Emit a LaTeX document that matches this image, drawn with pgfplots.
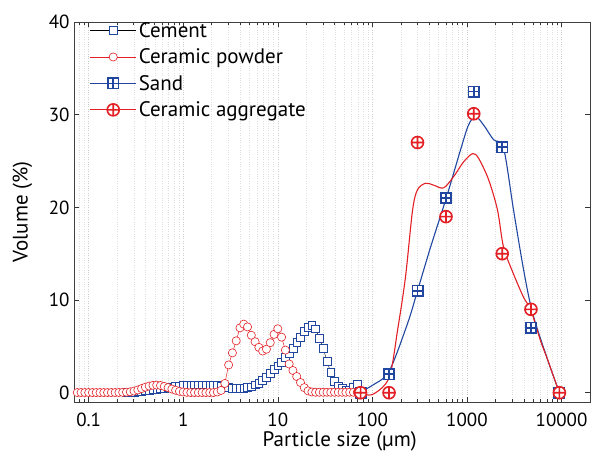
\documentclass[border=0pt]{standalone}
\usepackage{pgfplots}
\pgfplotsset{compat=1.18}
\usepackage{fontspec}
\setmainfont{PT Sans}
\usetikzlibrary{plotmarks}
\definecolor{myblue}{RGB}{32,70,160}
\definecolor{myred}{RGB}{226,32,38}
\pgfdeclareplotmark{boxplus}{%
  \pgfpathrectangle{\pgfqpoint{-\pgfplotmarksize}{-\pgfplotmarksize}}{\pgfqpoint{2\pgfplotmarksize}{2\pgfplotmarksize}}%
  \pgfusepathqfillstroke
  \pgfpathmoveto{\pgfqpoint{-\pgfplotmarksize}{0pt}}\pgfpathlineto{\pgfqpoint{\pgfplotmarksize}{0pt}}%
  \pgfpathmoveto{\pgfqpoint{0pt}{-\pgfplotmarksize}}\pgfpathlineto{\pgfqpoint{0pt}{\pgfplotmarksize}}%
  \pgfusepathqstroke
}
\pgfplotstableread{
x y
0.25119 0.02
0.27542 0.05
0.30200 0.08
0.33113 0.12
0.36308 0.17
0.39811 0.22
0.43652 0.28
0.47863 0.34
0.52481 0.40
0.57544 0.46
0.63096 0.52
0.69183 0.58
0.75858 0.63
0.83176 0.68
0.91201 0.73
1 0.77
1.0965 0.80
1.2023 0.83
1.3183 0.85
1.4454 0.86
1.5849 0.86
1.7378 0.85
1.9055 0.84
2.0893 0.82
2.2909 0.78
2.5119 0.72
2.7542 0.65
3.0200 0.58
3.3113 0.52
3.6308 0.49
3.9811 0.48
4.3652 0.50
4.7863 0.55
5.2481 0.65
5.7544 0.85
6.3096 1.05
6.9183 1.35
7.5858 1.65
8.3176 2.1
9.1201 2.5
10 2.9
10.965 3.3
12.023 3.8
13.183 4.2
14.454 4.8
15.849 5.4
17.378 6.0
19.055 6.6
20.893 7.05
22.909 7.25
25.119 6.9
27.542 5.9
30.200 4.8
33.113 3.4
36.308 2.2
39.811 1.2
43.652 0.7
47.863 0.45
52.481 0.3
57.544 0.3
63.096 0.55
69.183 0.9
}\cement
\pgfplotstableread{
x y
0.07586 0.02
0.08318 0.02
0.09120 0.02
0.1 0.02
0.10965 0.02
0.12023 0.02
0.13183 0.02
0.14454 0.02
0.15849 0.02
0.17378 0.02
0.19055 0.02
0.20893 0.03
0.22909 0.04
0.25119 0.06
0.27542 0.1
0.30200 0.18
0.33113 0.3
0.36308 0.45
0.39811 0.6
0.43652 0.72
0.47863 0.8
0.52481 0.82
0.57544 0.78
0.63096 0.68
0.69183 0.55
0.75858 0.4
0.83176 0.27
0.91201 0.15
1 0.08
1.0965 0.04
1.2023 0.02
1.3183 0.02
1.4454 0.02
1.5849 0.02
1.7378 0.02
1.9055 0.02
2.0893 0.02
2.2909 0.08
2.5119 0.25
2.7542 1.0
3.0200 3.0
3.3113 4.3
3.6308 5.6
3.9811 7.0
4.3652 7.4
4.7863 7.1
5.2481 6.2
5.7544 5.5
6.3096 4.9
6.9183 4.5
7.5858 4.7
8.3176 5.4
9.1201 6.3
10 6.9
10.965 6.0
12.023 4.6
13.183 3.1
14.454 2.4
15.849 1.75
17.378 1.1
19.055 0.55
20.893 0.2
22.909 0.08
25.119 0.05
27.542 0.05
30.200 0.05
33.113 0.05
36.308 0.05
39.811 0.05
43.652 0.05
47.863 0.05
52.481 0.05
57.544 0.05
63.096 0.05
69.183 0.05
}\cpowder
\pgfplotstableread{
x y
75 0
150 2
300 11
600 21
1180 32.5
2360 26.5
4750 7
9500 0
}\sand
\pgfplotstableread{
x y
75 0
150 0
300 27
600 19
1180 30.1
2360 15
4750 9
9500 0
}\aggr
\pgfplotstableread{
x y
75 0.1
100 0.8
150 2.3
236 7.5
300 11
412 15.7
608 21.1
855 26.2
1040 28.9
1233 29.8
1497 28.9
1910 27.3
2438 26.4
3110 19.7
3966 13.3
4937 8.6
7110 3.6
9500 0
}\sandfit
\pgfplotstableread{
x y
75 0
100 -0.2
150 1.6
185 6.8
224 12.5
266 19.7
300 21.9
365 22.6
443 22.4
566 22.1
721 23.3
920 24.9
1146 25.8
1327 25.3
1692 23.0
2105 19.7
2438 15.7
3110 12.8
3966 10.3
4750 8.9
6000 5.6
7110 3.6
8200 1.8
9500 0
}\aggrfit
\begin{document}
\begin{tikzpicture}
\useasboundingbox (-74pt,-50pt) rectangle (518pt,402pt);
\begin{axis}[
  at={(0pt,0pt)}, anchor=south west,
  scale only axis, width=516pt, height=380pt,
  xmode=log, log basis x=10,
  xmin=0.07, xmax=20000, ymin=-1, ymax=40,
  xtick={0.1,1,10,100,1000,10000},
  xticklabels={0.1,1,10,100,1000,10000},
  minor xtick={0.08,0.09,0.2,0.3,0.4,0.5,0.6,0.7,0.8,0.9,2,3,4,5,6,7,8,9,20,30,40,50,60,70,80,90,200,300,400,500,600,700,800,900,2000,3000,4000,5000,6000,7000,8000,9000},
  ytick={0,10,20,30,40},
  /pgf/number format/assume math mode=true,
  tick align=inside,
  major tick length=5pt, minor tick length=3pt,
  tick style={black!80, line width=0.6pt},
  axis line style={black!75, line width=0.8pt},
  xmajorgrids, xminorgrids,
  major grid style={dotted, black!20, line width=0.4pt},
  minor grid style={dotted, black!13, line width=0.4pt},
  tick label style={font=\fontsize{19}{22}\selectfont},
  xticklabel style={yshift=-7pt},
  yticklabel style={xshift=-1pt},
  label style={font=\fontsize{21}{24}\selectfont},
  xlabel={Particle size (µm)},
  ylabel={Volume (\%)},
  xlabel style={at={(axis description cs:0.515,-0.103)}, anchor=center},
  ylabel style={at={(axis description cs:-0.1,0.5)}, anchor=center},
  legend style={at={(rel axis cs:0.03,1.005)}, anchor=north west, draw=none, fill=none,
    font=\fontsize{21}{24}\selectfont, row sep=6pt, inner sep=0pt,
    cells={anchor=west}},
  legend image code/.code={\draw[mark repeat=2,mark phase=2] plot coordinates {(0pt,0pt)(23pt,0pt)(46pt,0pt)};},
]
\addplot[black, line width=0.4pt, mark=square*, mark size=3.9pt,
  mark options={draw=myblue, fill=white, line width=0.6pt}] table {\cement};
\addlegendentry{Cement}
\addplot[myred, line width=0.5pt, mark=*, mark size=4.1pt,
  mark options={draw=myred, fill=white, line width=0.6pt}] table {\cpowder};
\addlegendentry{Ceramic powder}
\addplot[myblue, line width=1.1pt, smooth, tension=0.5, forget plot] table {\sandfit};
\addplot[myred, line width=1.1pt, smooth, tension=0.5, forget plot] table {\aggrfit};
\addplot[only marks, mark=boxplus, mark size=5.2pt,
  mark options={draw=myblue, fill=white, line width=1.6pt}, forget plot] table {\sand};
\addplot[only marks, mark=oplus*, mark size=6pt,
  mark options={draw=myred, fill=white, line width=1.6pt}, forget plot] table {\aggr};
\addlegendimage{myblue, line width=1.1pt, mark=boxplus, mark size=5.2pt,
  mark options={draw=myblue, fill=white, line width=1.6pt}}
\addlegendentry{Sand}
\addlegendimage{myred, line width=1.1pt, mark=oplus*, mark size=6pt,
  mark options={draw=myred, fill=white, line width=1.6pt}}
\addlegendentry{Ceramic aggregate}
\end{axis}
\end{tikzpicture}
\end{document}
